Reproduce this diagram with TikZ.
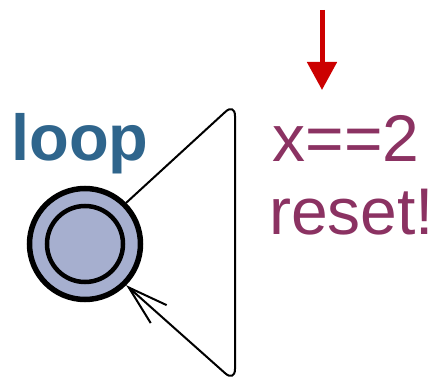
\documentclass[tikz,border=0pt]{standalone}
\usepackage{fontspec}
\setmainfont{Liberation Sans}
\usepackage{xcolor}
\usepackage{tikz}
\usetikzlibrary{arrows.meta, positioning}
\definecolor{statefill}{RGB}{166,175,207}
\definecolor{namecol}{RGB}{47,101,140}
\definecolor{guardcol}{RGB}{139,50,98}
\definecolor{syncred}{RGB}{204,0,0}
\tikzstyle{location} = [circle, minimum size=111pt, inner sep=0pt, draw=black, line width=5.5pt, fill=statefill]
\tikzstyle{committed} = [circle, minimum size=76pt, inner sep=0pt, draw=black, line width=4.5pt]
\tikzstyle{locname} = [inner sep=0pt, anchor=base, text=namecol, font=\fontsize{65}{70}\selectfont\bfseries]
\tikzstyle{edgelabel} = [inner sep=0pt, anchor=base west, text=guardcol, font=\fontsize{66}{70}\selectfont]
\tikzstyle{edge} = [line width=2pt, rounded corners=13pt, -{Straight Barb[length=40pt, width=24pt, line width=2pt]}]
\tikzstyle{sync} = [line width=5pt, syncred, -{Triangle[length=28pt, width=29pt]}]

\begin{document}
\begin{tikzpicture}[x=1pt, y=-1pt]
\useasboundingbox (0,0) rectangle (437,385);
\node (loop) [location] at (85,244) {};
\node (loopin) [committed] at (loop.center) {};
\node (name) [locname] at (80,161) {loop};

\coordinate (top) at (235,103);
\coordinate (bot) at (235,382);
\draw [edge] (loop.45) -- (top) -- (bot) -- (loop.-45);

\node (guard) [edgelabel] at (272.5,162) {x==2};
\node (reset) [edgelabel] at (269,235) {reset!};

\coordinate (synctop) at (322,10);
\coordinate (synctip) at (322,90);
\draw [sync] (synctop) -- (synctip);
\end{tikzpicture}
\end{document}
